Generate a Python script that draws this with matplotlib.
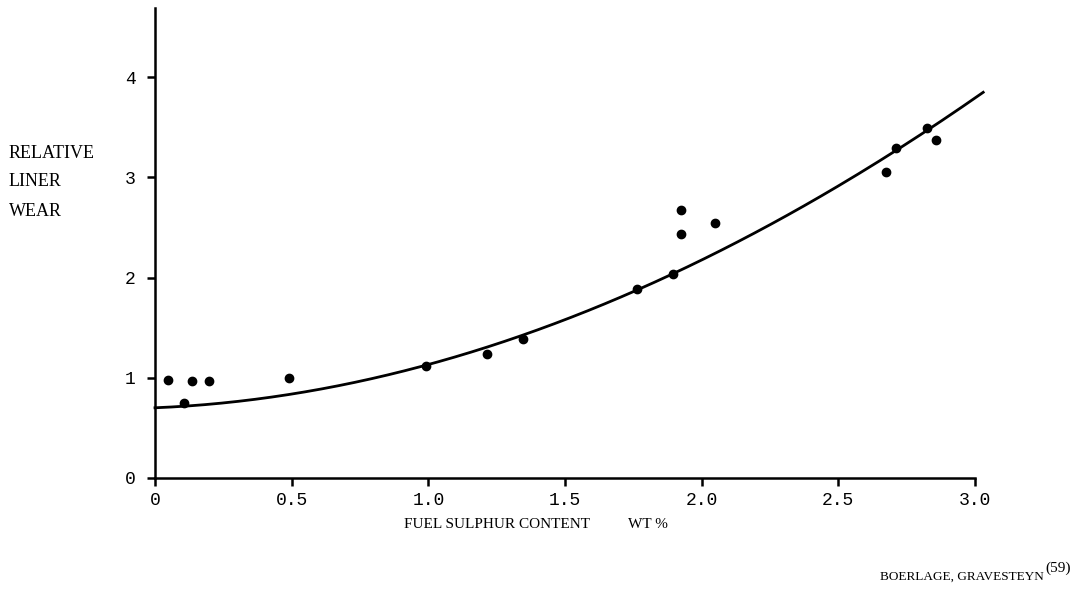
import numpy as np
import matplotlib
matplotlib.use("Agg")
import matplotlib.pyplot as plt

# Measured points
sulphur = [0.047, 0.106, 0.135, 0.197, 0.489, 0.993, 1.215, 1.347, 1.763,
           1.894, 1.923, 1.923, 2.047, 2.675, 2.712, 2.825, 2.858]
wear = [0.98, 0.75, 0.97, 0.97, 1.00, 1.12, 1.24, 1.39, 1.89,
        2.04, 2.43, 2.67, 2.54, 3.05, 3.29, 3.49, 3.37]

# Points
curve_x = [0.0, 0.49, 0.99, 1.35, 1.76, 1.89, 2.28, 2.43, 2.71, 2.83, 3.03]
curve_y = [0.69, 0.86, 1.12, 1.40, 1.89, 2.04, 2.55, 2.80, 3.29, 3.49, 3.83]

xticks = [0, 0.5, 1.0, 1.5, 2.0, 2.5, 3.0]
xtick_labels = ["0", "0.5", "1.0", "1.5", "2.0", "2.5", "3.0"]
yticks = [0, 1, 2, 3, 4]
ytick_labels = ["0", "1", "2", "3", "4"]

W, H = 1080, 593
fig = plt.figure(figsize=(W / 100, H / 100), dpi=100)
ax = fig.add_axes([155 / W, 1 - 478 / H, 820 / W, 470 / H])
ax.set_xlim(0, 3.0)
ax.set_ylim(0, 4.69)

for s in ["top", "right"]:
    ax.spines[s].set_visible(False)
for s in ["left", "bottom"]:
    ax.spines[s].set_linewidth(1.8)
    ax.spines[s].set_color("black")

mono = "Liberation Mono"
serif = "Liberation Serif"

ax.set_xticks(xticks)
ax.set_xticklabels(xtick_labels, fontfamily=mono, fontsize=13)
ax.set_yticks(yticks)
ax.set_yticklabels(ytick_labels, fontfamily=mono, fontsize=13)
ax.tick_params(axis="both", direction="out", length=6, width=1.8, colors="black")
ax.tick_params(axis="x", pad=4)
ax.tick_params(axis="y", pad=8)

# Smooth trend curve fitted through the read curve points
coef = np.polyfit(curve_x, curve_y, 3)
xs = np.linspace(curve_x[0], curve_x[-1], 200)
ax.plot(xs, np.polyval(coef, xs), color="black", lw=2.0, clip_on=False)

ax.plot(sulphur, wear, "o", color="black", ms=6, clip_on=False)

fig.text(9 / W, 1 - 153 / H, "RELATIVE", fontfamily=serif, fontsize=13, va="center", ha="left")
fig.text(9 / W, 1 - 182 / H, "LINER", fontfamily=serif, fontsize=13, va="center", ha="left")
fig.text(9 / W, 1 - 211 / H, "WEAR", fontfamily=serif, fontsize=13, va="center", ha="left")

fig.text(404 / W, 1 - 524 / H, "FUEL SULPHUR CONTENT", fontfamily=serif, fontsize=11,
         va="center", ha="left")
fig.text(628 / W, 1 - 524 / H, "WT %", fontfamily=serif, fontsize=11, va="center", ha="left")

src = fig.text(880 / W, 1 - 577 / H, "BOERLAGE, GRAVESTEYN", fontfamily=serif,
               fontsize=9.5, va="center", ha="left")
fig.canvas.draw()
bb = src.get_window_extent(fig.canvas.get_renderer())
fig.text(bb.x1 / W + 2 / W, 1 - 568 / H, "(59)", fontfamily=serif,
         fontsize=11, va="center", ha="left")

fig.savefig("out.png", dpi=100, facecolor="white")
